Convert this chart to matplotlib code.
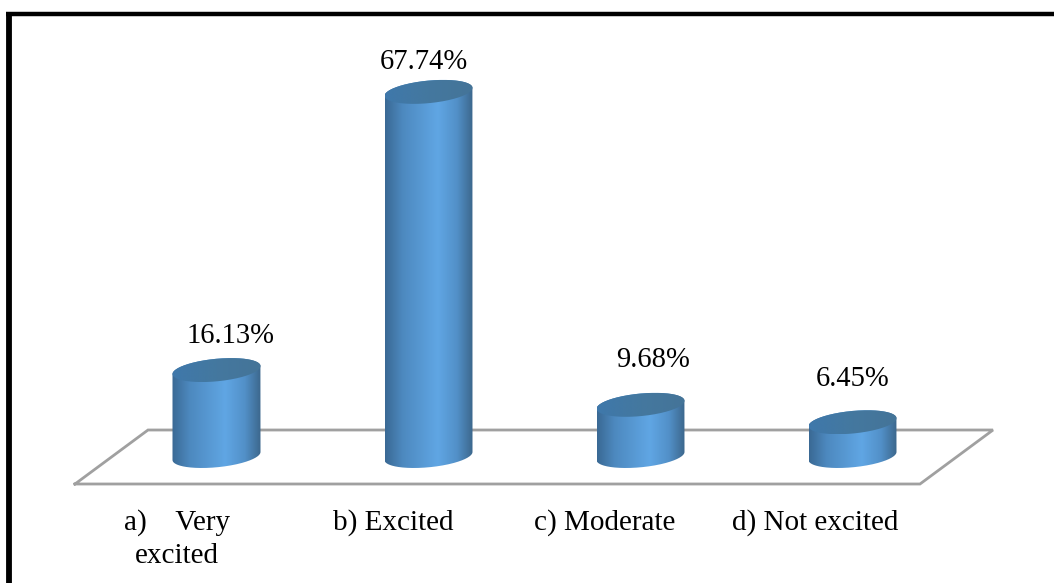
# -*- coding: utf-8 -*-
""" Cylinder bar chart of how excited the respondents were, with a tilted
floor behind the bars and a heavy rule along the top and left edges.
"""

import matplotlib.pyplot as plt
from matplotlib.colors import LinearSegmentedColormap
from matplotlib.path import Path
from matplotlib.patches import PathPatch
import numpy as np

categories = ["a)    Very", "b) Excited", "c) Moderate", "d) Not excited"]
shares = [16.13, 67.74, 9.68, 6.45]
share_labels = ["16.13%", "67.74%", "9.68%", "6.45%"]

W, H = 1054, 583
PX_PER_CAT = 212.0
PX_PER_PCT = 5.39
X0, Y0 = 216.5, 457.0
HALF_W = 44.0 / PX_PER_CAT
CAP_B = 11.3 / PX_PER_PCT
CAP_LIFT = 4.0 / PX_PER_PCT
BASE = 1.0 / PX_PER_PCT

plt.rcParams['font.family'] = ['Liberation Serif', 'DejaVu Serif']

side_cmap = LinearSegmentedColormap.from_list(
    "side", [(0.0, "#3a6994"), (0.2, "#4d89bf"), (0.60, "#60a6e4"),
             (0.82, "#5290c8"), (1.0, "#3c678c")])
cap_cmap = LinearSegmentedColormap.from_list(
    "cap", [(0.0, "#3f78ab"), (0.5, "#44789f"), (1.0, "#447498")])

fig = plt.figure(figsize=(W / 100, H / 100), dpi=100)
ax = fig.add_axes([0, 0, 1, 1])
xlim = (-X0 / PX_PER_CAT, (W - X0) / PX_PER_CAT)
ylim = ((Y0 - H) / PX_PER_PCT, Y0 / PX_PER_PCT)
ax.axis("off")


def px(x, y):
    """Figure pixels (origin top left) to data coordinates"""
    return (np.asarray(x, float) - X0) / PX_PER_CAT, (Y0 - np.asarray(y, float)) / PX_PER_PCT


def cap_edge(cx, cy, sign):
    """Upper (sign=1) or lower (sign=-1) edge of a sheared ellipse"""
    u = np.linspace(-1, 1, 201)
    u = np.sin(u * np.pi / 2)
    return cx + HALF_W * u, cy + CAP_LIFT * u + sign * CAP_B * np.sqrt(1 - u ** 2)


def gradient(cmap, path, x0, x1, y0, y1):
    grad = np.linspace(0, 1, 256).reshape(1, -1)
    im = ax.imshow(grad, cmap=cmap, extent=(x0, x1, y0, y1), aspect="auto",
                   interpolation="bilinear", zorder=3)
    im.set_clip_path(PathPatch(path, transform=ax.transData))


# floor
fx, fy = px([75, 920, 993, 148, 75], [484, 484, 430, 430, 484])
ax.plot(fx, fy, color="#a0a0a0", lw=2.0, solid_joinstyle="miter", zorder=1)

for i, v in enumerate(shares):
    lx, ly = cap_edge(i, BASE, -1)
    ux, uy = cap_edge(i, v, 1)
    body = Path(np.column_stack([np.concatenate([lx, ux[::-1]]),
                                 np.concatenate([ly, uy[::-1]])]))
    gradient(side_cmap, body, i - HALF_W, i + HALF_W, ly.min(), uy.max())

    dx, dy = cap_edge(i, v, -1)
    cap = Path(np.column_stack([np.concatenate([dx, ux[::-1]]),
                                np.concatenate([dy, uy[::-1]])]))
    gradient(cap_cmap, cap, i - HALF_W, i + HALF_W, dy.min(), uy.max())

ax.set_xlim(xlim)
ax.set_ylim(ylim)

# value labels
value_px = [(231, 336), (424, 62), (653, 360), (853, 379)]
for text, (tx, ty) in zip(share_labels, value_px):
    x, y = px(tx, ty)
    ax.text(x, y, text, ha="center", va="center", fontsize=20.6, color="black", zorder=4)

# category labels
label_px = [(177, 523), (393, 523), (605, 523), (815, 523)]
for text, (tx, ty) in zip(categories, label_px):
    x, y = px(tx, ty)
    ax.text(x, y, text, ha="center", va="center", fontsize=21, color="black")
x, y = px(177, 556)
ax.text(x, y, "excited", ha="center", va="center", fontsize=21, color="black")

# heavy rule, top and left only
rx, ry = px([9, 9], [12, H + 5])
ax.plot(rx, ry, color="black", lw=4.2, solid_capstyle="butt", zorder=5)
rx, ry = px([6, W + 5], [14, 14])
ax.plot(rx, ry, color="black", lw=3.2, solid_capstyle="butt", zorder=5)

fig.savefig("out.png", dpi=100)
